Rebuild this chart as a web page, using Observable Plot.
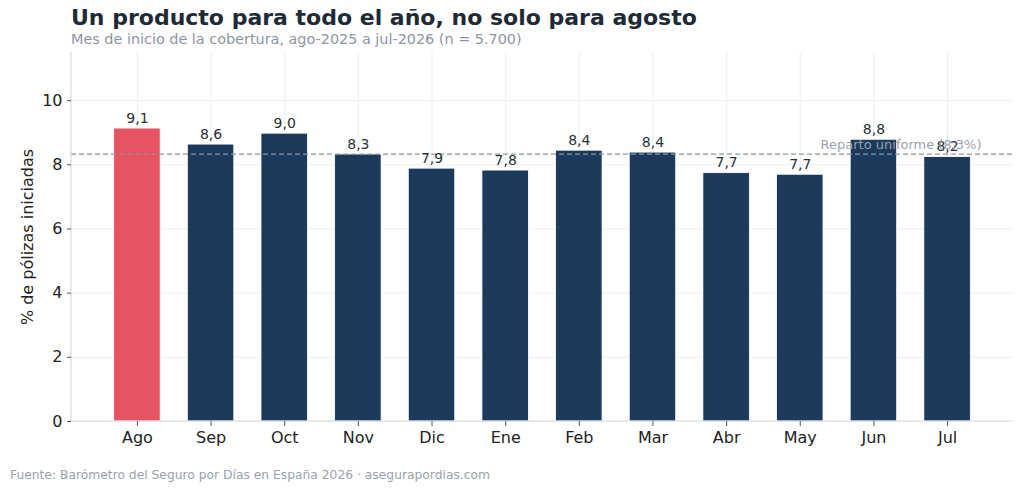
<!DOCTYPE html>
<html>
<head>
<meta charset="utf-8">
<script src="https://cdn.jsdelivr.net/npm/d3@7"></script>
<script src="https://cdn.jsdelivr.net/npm/@observablehq/plot@0.6"></script>
<style>
  html, body { margin: 0; padding: 0; background: #fff; }
  body { width: 1024px; height: 493px; overflow: hidden; font-family: "DejaVu Sans", sans-serif; }
  #title { position: absolute; left: 71px; top: 5px; font-size: 22px; font-weight: bold; color: #1f2a37; white-space: nowrap; }
  #subtitle { position: absolute; left: 71px; top: 31px; font-size: 14.4px; color: #8c95a3; white-space: nowrap; }
  #chart { position: absolute; left: 0; top: 48px; }
  #caption { position: absolute; left: 10px; top: 468px; font-size: 12.3px; color: #9aa2ae; white-space: nowrap; }
</style>
</head>
<body>
<div id="title">Un producto para todo el año, no solo para agosto</div>
<div id="subtitle">Mes de inicio de la cobertura, ago-2025 a jul-2026 (n = 5.700)</div>
<div id="chart"></div>
<div id="caption">Fuente: Barómetro del Seguro por Días en España 2026 · asegurapordias.com</div>
<script>
const months = ["Ago","Sep","Oct","Nov","Dic","Ene","Feb","Mar","Abr","May","Jun","Jul"];
const shares = [9.13, 8.63, 8.97, 8.32, 7.88, 7.82, 8.44, 8.38, 7.74, 7.69, 8.78, 8.24];
const highlight = "Ago";
const uniform = 100 / 12;
const uniformLabel = "Reparto uniforme (8,3%)";
const yTicks = [0, 2, 4, 6, 8, 10];

const data = months.map((m, i) => ({month: m, value: shares[i]}));
const fmt = v => v.toFixed(1).replace(".", ",");

const spines = (index, scales, values, dims) => {
  const g = d3.create("svg:g");
  const x0 = dims.marginLeft, x1 = dims.width - dims.marginRight;
  const y0 = dims.marginTop, y1 = dims.height - dims.marginBottom;
  g.append("line").attr("x1", x0).attr("x2", x0).attr("y1", y0).attr("y2", y1)
    .attr("stroke", "#d5d9e0").attr("stroke-width", 1.2);
  g.append("line").attr("x1", x0).attr("x2", x1).attr("y1", y1).attr("y2", y1)
    .attr("stroke", "#d5d9e0").attr("stroke-width", 1.2);
  return g.node();
};

const chart = Plot.plot({
  width: 1024,
  height: 415,
  marginLeft: 71,
  marginRight: 11,
  marginTop: 4,
  marginBottom: 42,
  style: {fontFamily: "DejaVu Sans, sans-serif", background: "transparent", color: "#222"},
  x: {domain: months, paddingInner: 0.38, paddingOuter: 0.585, round: false, label: null},
  y: {domain: [0, 11.5], label: null},
  marks: [
    Plot.gridX(months, {stroke: "#eceef2", strokeOpacity: 1, y1: 0, y2: 11.5}),
    Plot.gridY(yTicks, {stroke: "#eceef2", strokeOpacity: 1}),
    Plot.barY(data, {x: "month", y: "value", fill: d => d.month === highlight ? "#e85362" : "#1b3a5c", stroke: "#ffffff", strokeWidth: 0.8, insetLeft: -0.4, insetRight: -0.4}),
    Plot.ruleY([uniform], {stroke: "#8f959e", strokeWidth: 1.4, strokeDasharray: "5,3"}),
    Plot.text(data, {x: "month", y: "value", text: d => fmt(d.value), lineAnchor: "bottom", dy: -6, fontSize: 14, fill: "#2a2f36"}),
    Plot.text([uniformLabel], {frameAnchor: "right", y: [uniform], text: d => d, textAnchor: "end", dx: -32, dy: -9, fontSize: 13, fill: "#9aa1ab"}),
    spines,
    Plot.axisY({ticks: yTicks, tickSize: 4, tickPadding: 5, fontSize: 16, stroke: "#555", color: "#222", label: null}),
    Plot.axisX({tickSize: 5, tickPadding: 5, fontSize: 16, stroke: "#555", color: "#222", label: null}),
    Plot.text(["% de pólizas iniciadas"], {frameAnchor: "left", text: d => d, rotate: -90, textAnchor: "middle", dx: -44, dy: 0, fontSize: 16, fill: "#222"})
  ]
});
document.getElementById("chart").appendChild(chart);
</script>
</body>
</html>
